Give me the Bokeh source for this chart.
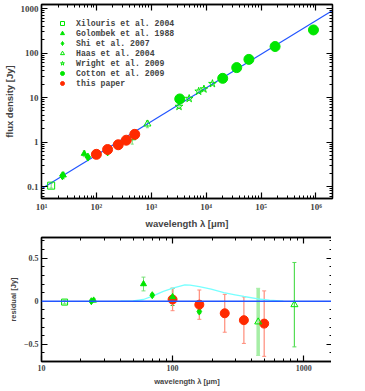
import numpy as np
from bokeh.plotting import figure
from bokeh.models import (ColumnDataSource, Whisker, TeeHead, LogAxis, LinearAxis,
                          FixedTicker, Legend, LegendItem, Span, CustomJSTickFormatter)
from bokeh.layouts import column
from bokeh.embed import file_html
from bokeh.resources import INLINE

# ---------------- data: SED (top panel) ----------------
xil_wl = [15];                xil_f = [0.105];              xil_e = [0.012]
gol_wl = [25, 60, 100];       gol_f = [0.18, 0.55, 0.52];   gol_e = [0.03, 0.08, 0.09]
shi_wl = [24, 70, 160];       shi_f = [0.175, 0.46, 0.60];  shi_e = [0.01, 0.03, 0.06]
haas_wl = [450, 850];         haas_f = [1.25, 2.55];        haas_e = [0.35, 0.45]
wright_wl = [3200, 4900, 7300, 9100, 13000]
wright_f = [6.3, 9.5, 13.8, 15.5, 20.5]
wright_e = [0.5, 0.6, 0.9, 1.0, 1.3]
cot_wl = [3300, 20000, 36000, 60000, 180000, 900000]
cot_f = [9.3, 27, 47, 72, 140, 330]
pap_wl = [100, 160, 250, 350, 500]
pap_f = [0.53, 0.68, 0.87, 1.10, 1.49]
pap_e = [0.10, 0.13, 0.17, 0.22, 0.35]
model_wl = [10, 2.0e6]
model_f = [0.089, 900]

# ---------------- data: residuals (bottom panel) ----------------
res_xil_wl = [15];            res_xil = [-0.01];              res_xil_e = [0.02]
res_gol_wl = [25, 60];        res_gol = [0.01, 0.20];         res_gol_e = [0.02, 0.08]
res_gol100_wl = [100];        res_gol100 = [0.05];            res_gol100_e = [0.10]
res_shi_wl = [24, 70, 160];   res_shi = [0.0, 0.07, -0.12];   res_shi_e = [0.01, 0.02, 0.02]
res_haas450_wl = [450];       res_haas450 = [-0.24];          res_haas450_e = [0.39]
res_haas850_wl = [850];       res_haas850 = [-0.04];          res_haas850_e = [0.49]
res_pap_wl = [100, 160, 250, 350, 500]
res_pap = [0.02, -0.04, -0.14, -0.22, -0.26]
res_pap_e = [0.13, 0.17, 0.22, 0.27, 0.38]
cold_wl = [40, 50, 60, 71, 85, 102, 124, 136, 160, 197, 246, 300, 350, 450, 550, 700]
cold_res = [0.0, 0.005, 0.02, 0.063, 0.115, 0.155, 0.19, 0.187, 0.17, 0.14,
            0.10, 0.075, 0.055, 0.026, 0.012, 0.002]

top_x_ticks = [10, 100, 1000, 10000, 100000, 1000000]
top_x_labels = ["10¹", "10²", "10³", "10⁴", "10⁵", "10⁶"]
top_y_ticks = [0.1, 1, 10, 100, 1000]
top_y_labels = ["0.1", "1", "10", "100", "1000"]
bot_x_ticks = [10, 100, 1000]
bot_x_labels = ["10", "100", "1000"]
bot_y_ticks = [-0.5, 0, 0.5]
bot_y_labels = ["−0.5", "0", "0.5"]

GREEN = "#00e600"
RED = "#ff2a00"
BLUE = "#2255ff"
CYAN = "#77ffff"
LGREEN = "#77e077"
LRED = "#ff8c7a"

LABEL_FONT = "Liberation Sans"
TICK_FONT = "Liberation Serif"


def log_minor(lo_exp, hi_exp):
    return [m * 10.0 ** e for e in range(lo_exp, hi_exp) for m in range(2, 10)]


def labeller(ticks, labels):
    return CustomJSTickFormatter(args=dict(t=list(ticks), l=list(labels)), code="""
        for (let i = 0; i < t.length; i++) {
            if (Math.abs(tick - t[i]) <= 1e-6 * Math.max(1, Math.abs(t[i]))) return l[i];
        }
        return "";
    """)


def blank():
    return CustomJSTickFormatter(code="return ' ';")


def style(p, xt, xmin, xlabels, yt, ymin, ylabels, xlab, ylab, xtype, ytype, tick_fs, lab_fs):
    p.grid.visible = False
    p.outline_line_color = "black"
    p.outline_line_width = 1.3
    xt_ = FixedTicker(ticks=xt, minor_ticks=xmin)
    yt_ = FixedTicker(ticks=yt, minor_ticks=ymin)
    bottom = p.below[0]
    left = p.left[0]
    bottom.ticker = xt_
    left.ticker = yt_
    bottom.formatter = labeller(xt, xlabels)
    left.formatter = labeller(yt, ylabels)
    bottom.axis_label = xlab
    left.axis_label = ylab
    AX = {"log": LogAxis, "linear": LinearAxis}
    right = AX[ytype](ticker=yt_, formatter=blank())
    above = AX[xtype](ticker=xt_, formatter=blank())
    p.add_layout(right, "right")
    p.add_layout(above, "above")
    for ax in [bottom, left, right, above]:
        ax.major_tick_in = 6
        ax.major_tick_out = 0
        ax.minor_tick_in = 3
        ax.minor_tick_out = 0
        ax.axis_line_width = 1.3
        ax.major_tick_line_width = 1.2
        ax.minor_tick_line_width = 1
        ax.major_label_text_font = TICK_FONT
        ax.major_label_text_font_style = "bold"
        ax.major_label_text_font_size = tick_fs
        ax.major_label_standoff = 3
        ax.axis_label_text_font = LABEL_FONT
        ax.axis_label_text_font_style = "bold"
        ax.axis_label_text_font_size = lab_fs
        ax.axis_label_standoff = 3
    for ax in [right, above]:
        ax.major_label_standoff = 0
        ax.major_label_text_font_size = "1px"


def errbars(p, wl, val, err, color, width=1.0, head=4):
    src = ColumnDataSource(dict(x=wl, lo=[v - e for v, e in zip(val, err)],
                                hi=[v + e for v, e in zip(val, err)]))
    w = Whisker(source=src, base="x", upper="hi", lower="lo", dimension="height",
                line_color=color, line_width=width,
                upper_head=TeeHead(size=head, line_color=color, line_width=1),
                lower_head=TeeHead(size=head, line_color=color, line_width=1))
    p.add_layout(w)


# ---------------- top panel ----------------
p = figure(x_axis_type="log", y_axis_type="log", x_range=(10, 2.0e6), y_range=(0.054, 1230),
           frame_width=291, frame_height=194, output_backend="svg", toolbar_location=None,
           min_border_left=33, min_border_right=4, min_border_top=2, min_border_bottom=4)
style(p, top_x_ticks, log_minor(1, 7), top_x_labels, top_y_ticks, log_minor(-2, 3), top_y_labels,
      "wavelength λ [μm]", "flux density [Jy]", "log", "log", "9px", "9.5px")

p.line(model_wl, model_f, line_color=BLUE, line_width=1.2)

errbars(p, xil_wl, xil_f, xil_e, LGREEN, head=3)
errbars(p, gol_wl, gol_f, gol_e, LGREEN, head=3)
errbars(p, shi_wl, shi_f, shi_e, LGREEN, head=3)
errbars(p, haas_wl, haas_f, haas_e, LGREEN, head=3)
errbars(p, wright_wl, wright_f, wright_e, LGREEN, head=3)
errbars(p, pap_wl, pap_f, pap_e, LRED, head=3)

g_xil = p.scatter(xil_wl, xil_f, marker="square", size=7, fill_color=None, line_color=GREEN, line_width=1)
g_gol = p.scatter(gol_wl, gol_f, marker="triangle", size=6, fill_color=GREEN, line_color=GREEN)
g_shi = p.scatter(shi_wl, shi_f, marker="diamond", size=8, fill_color=GREEN, line_color=GREEN)
g_haas = p.scatter(haas_wl, haas_f, marker="triangle", size=7, fill_color=None, line_color=GREEN, line_width=1)
g_wri = p.scatter(wright_wl, wright_f, marker="star", size=8, fill_color=None, line_color=GREEN, line_width=1)
g_cot = p.scatter(cot_wl, cot_f, marker="circle", size=10, fill_color=GREEN, line_color=GREEN)
g_pap = p.scatter(pap_wl, pap_f, marker="circle", size=10, fill_color=RED, line_color=RED)

legend_labels = ["Xilouris et al. 2004", "Golombek et al. 1988", "Shi et al. 2007",
                 "Haas et al. 2004", "Wright et al. 2009", "Cotton et al. 2009", "this paper"]
legend = Legend(items=[LegendItem(label=l, renderers=[r]) for l, r in
                       zip(legend_labels, [g_xil, g_gol, g_shi, g_haas, g_wri, g_cot, g_pap])],
                location="top_left", border_line_color=None, background_fill_alpha=0,
                label_text_font="Liberation Mono", label_text_font_style="bold",
                label_text_font_size="8.2px", label_height=10, glyph_height=10, glyph_width=14,
                label_standoff=7, spacing=0, margin=14, padding=5)
p.add_layout(legend)

# ---------------- bottom panel ----------------
q = figure(x_axis_type="log", x_range=(10, 1660), y_range=(-0.70, 0.74),
           frame_width=291, frame_height=124, output_backend="svg", toolbar_location=None,
           min_border_left=33, min_border_right=4, min_border_top=6, min_border_bottom=4)
style(q, bot_x_ticks, log_minor(1, 4), bot_x_labels, bot_y_ticks,
      [round(v, 1) for v in np.arange(-0.7, 0.75, 0.1)], bot_y_labels,
      "wavelength λ [μm]", "residual [Jy]", "log", "linear", "8px", "7.5px")

q.add_layout(Span(location=0, dimension="width", line_color=BLUE, line_width=1.6))
q.line(cold_wl, cold_res, line_color=CYAN, line_width=1.3)

errbars(q, res_xil_wl, res_xil, res_xil_e, LGREEN)
errbars(q, res_gol_wl, res_gol, res_gol_e, LGREEN)
errbars(q, res_shi_wl, res_shi, res_shi_e, LGREEN)
errbars(q, res_gol100_wl, res_gol100, res_gol100_e, "#33cc33", width=1.5)
errbars(q, res_haas450_wl, res_haas450, res_haas450_e, "#a6eea6", width=3.5)
errbars(q, res_haas850_wl, res_haas850, res_haas850_e, "#55dd55", width=1.2)
errbars(q, res_pap_wl, res_pap, res_pap_e, LRED, width=1.2)

q.scatter(res_xil_wl, res_xil, marker="square", size=6, fill_color=None, line_color=GREEN, line_width=1)
q.scatter(res_gol_wl, res_gol, marker="triangle", size=6, fill_color=GREEN, line_color=GREEN)
q.scatter(res_shi_wl, res_shi, marker="diamond", size=7, fill_color=GREEN, line_color=GREEN)
q.scatter(res_pap_wl, res_pap, marker="circle", size=9, fill_color=RED, line_color=RED)
q.scatter(res_gol100_wl, res_gol100, marker="triangle", size=6, fill_color=GREEN, line_color=GREEN)
q.scatter(res_haas450_wl + res_haas850_wl, res_haas450 + res_haas850, marker="triangle", size=7,
          fill_color=None, line_color=GREEN, line_width=1)

layout = column(p, q, spacing=0)
open("out.html", "w").write(file_html(layout, INLINE))
